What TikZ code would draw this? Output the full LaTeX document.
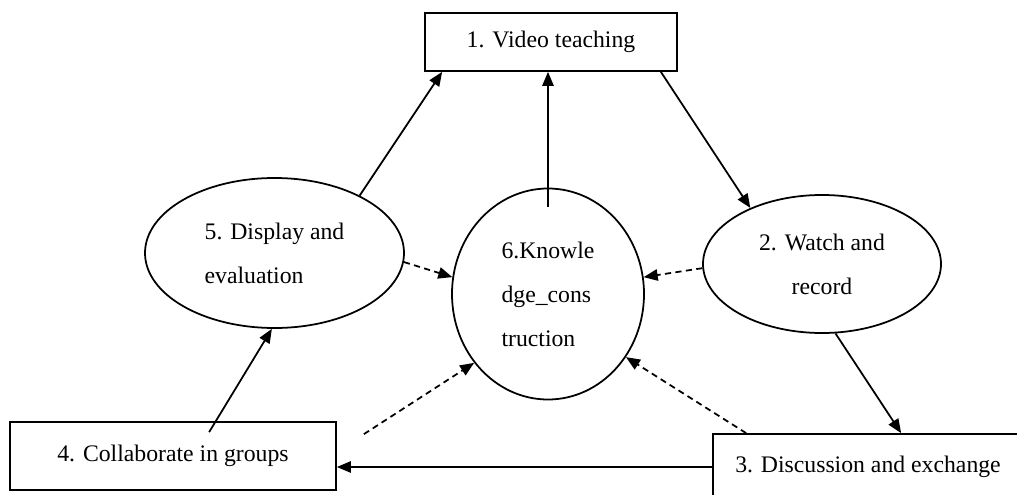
\documentclass[tikz,border=0pt]{standalone}
\usepackage{fontspec}
\setmainfont{Liberation Serif}
\usepackage{tikz}
\usetikzlibrary{arrows.meta,positioning,shapes.geometric}

\begin{document}
\begin{tikzpicture}[>={Triangle[length=8pt,width=6.5pt]},every node/.style={font=\fontsize{13.5}{25}\selectfont},
  stepbox/.style={draw,line width=1pt,inner sep=0pt},
  phase/.style={draw,ellipse,line width=1pt,inner sep=0pt},
  flow/.style={->,line width=1pt},
  hint/.style={->,line width=1pt,dash pattern=on 3.5pt off 2.5pt}]
\useasboundingbox (0,0) rectangle (20.34,-9.9);
\clip (0,0) rectangle (20.34,-9.9);
% boxes
\node[stepbox,minimum width=5.04cm,minimum height=1.16cm] (video) at (11.02,-0.84) {1. Video teaching};
\node[stepbox,minimum width=6.52cm,minimum height=1.36cm] (group) at (3.46,-9.12) {4. Collaborate in groups};
\node[stepbox,minimum width=6.2cm,minimum height=1.32cm] (discuss) at (17.36,-9.34) {3. Discussion and exchange};
% ellipses
\node[phase,align=left,minimum width=5.18cm,minimum height=3.0cm] (display) at (5.49,-5.06) {5. Display and\\evaluation};
\node[phase,align=left,minimum width=3.84cm,minimum height=4.22cm] (know) at (10.96,-5.88) {6.Knowle\\dge\_cons\\truction};
\node[phase,align=center,minimum width=4.76cm,minimum height=2.76cm] (watch) at (16.44,-5.28) {2. Watch and\\record};
% solid flow
\draw[flow] (display.34) -- ([xshift=0.36cm]video.south west);
\draw[flow] ([yshift=-0.38cm]know.north) -- (know.north |- video.south);
\draw[flow] ([xshift=-0.34cm]video.south east) -- (watch.142);
\draw[flow] (watch.281) -- ([xshift=3.78cm]discuss.north west);
\draw[flow] (discuss.west) -- (discuss.west -| group.east);
\draw[flow] ([shift={(4cm,-0.22cm)}]group.north west) -- (display.268);
% dashed hints
\draw[hint] (display.-4) -- (know.170);
\draw[hint] (watch.182) -- (know.10);
\draw[hint] ([shift={(0.54cm,-0.26cm)}]group.north east) -- (know.223);
\draw[hint] ([xshift=0.68cm]discuss.north west) -- (know.321);
\end{tikzpicture}
\end{document}
